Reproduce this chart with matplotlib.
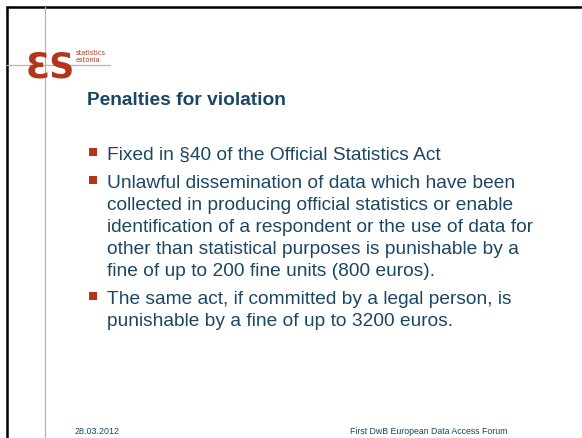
import matplotlib
matplotlib.use("Agg")
import matplotlib.pyplot as plt
from matplotlib.patches import Rectangle

# ---- content ----
title = "Penalties for violation"
bullets = [
    ["Fixed in §40 of the Official Statistics Act"],
    ["Unlawful dissemination of data which have been",
     "collected in producing official statistics or enable",
     "identification of a respondent or the use of data for",
     "other than statistical purposes is punishable by a",
     "fine of up to 200 fine units (800 euros)."],
    ["The same act, if committed by a legal person, is",
     "punishable by a fine of up to 3200 euros."],
]
footer_left = "28.03.2012"
footer_right = "First DwB European Data Access Forum"
logo_mark = "ƐS"
logo_words = ["statistics", "estonia"]

TEXT = "#1b4763"
RED = "#b3361c"
PINK = "#d7a49b"

W, H = 582, 438
fig = plt.figure(figsize=(W / 100, H / 100), dpi=100)
ax = fig.add_axes([0, 0, 1, 1])
ax.set_xlim(0, W)
ax.set_ylim(H, 0)
ax.axis("off")

# frame lines
ax.plot([6, W], [6.5, 6.5], color="black", lw=1.8, solid_capstyle="butt")
ax.plot([6.5, 6.5], [6, H], color="black", lw=1.8, solid_capstyle="butt")
# decorative thin lines
ax.plot([45, 45], [7, H], color=PINK, lw=0.9)
ax.plot([7, 110], [65, 65], color=PINK, lw=0.9)

# logo
ax.text(50, 67, logo_mark, fontsize=25, fontweight="bold", color=RED,
        family="DejaVu Sans", ha="center", va="center")
ax.text(76, 55, logo_words[0], fontsize=4.9, color=RED, family="DejaVu Sans",
        ha="left", va="baseline")
ax.text(76, 62, logo_words[1], fontsize=4.9, color=RED, family="DejaVu Sans",
        ha="left", va="baseline")

# title
ax.text(87, 105, title, fontsize=13.8, fontweight="bold", color=TEXT,
        family="Liberation Sans", ha="left", va="baseline")

# bullets
y = 160
line_gap = 22
para_gap = 28
for para in bullets:
    ax.add_patch(Rectangle((89, y - 12), 8, 8, color=RED, lw=0))
    for i, line in enumerate(para):
        ax.text(107, y, line, fontsize=13.8, color=TEXT,
                family="Liberation Sans", ha="left", va="baseline")
        if i < len(para) - 1:
            y += line_gap
    y += para_gap

# footer
ax.text(75, 434, footer_left, fontsize=6.4, color=TEXT,
        family="Liberation Sans", ha="left", va="baseline")
ax.text(507, 434, footer_right, fontsize=6.3, color=TEXT,
        family="Liberation Sans", ha="right", va="baseline")

fig.savefig("out.png", dpi=100)
